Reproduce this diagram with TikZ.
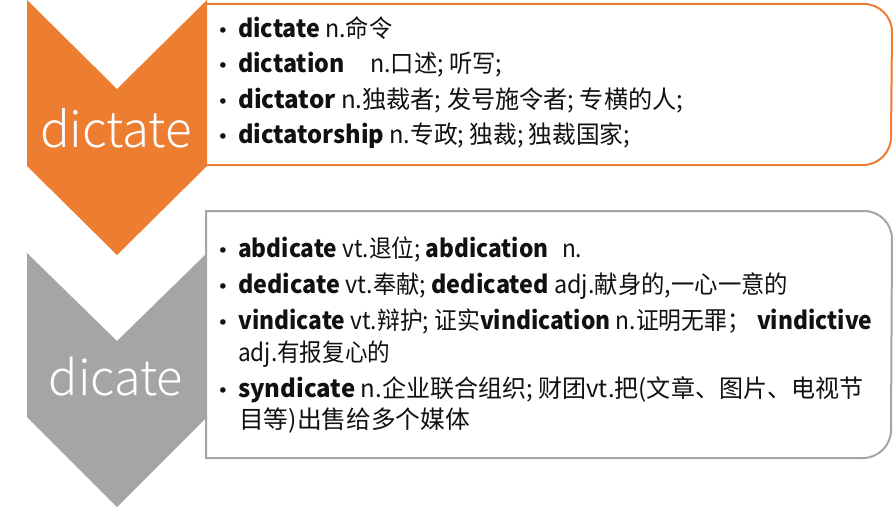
\documentclass[tikz,border=0pt]{standalone}
\usepackage{fontspec}
\setmainfont{Noto Sans CJK SC}
\newfontfamily\lightfont{Noto Sans CJK SC Light}
\newfontfamily\bulfont{DejaVu Sans}
\usepackage{graphicx}
\definecolor{chevorange}{HTML}{ED7D31}
\definecolor{chevgray}{HTML}{A5A5A5}
\definecolor{txt}{HTML}{111111}
\newsavebox\fitbox
\newcommand{\fitline}[2]{\sbox\fitbox{#2}\pgfmathsetmacro\fitfac{#1/\wd\fitbox}\scalebox{\fitfac}[1]{\usebox\fitbox}}
\tikzset{
  listline/.style={anchor=base west, inner sep=0pt, text=txt, font=\fontsize{24.5pt}{28pt}\selectfont},
  bul/.style={anchor=base, inner sep=0pt, text=txt, font=\bulfont\fontsize{19pt}{24pt}\selectfont},
  chevlabel/.style={anchor=base, inner sep=0pt, text=white, font=\lightfont\fontsize{52pt}{60pt}\selectfont},
  boxline/.style={line width=2pt, fill=white},
}
\begin{document}
\begin{tikzpicture}[x=1pt,y=-1pt]
\useasboundingbox (0,0) rectangle (894,508);
% chevrons
\fill[chevorange] (27,0) -- (117,89) -- (207,0) -- (207,166) -- (117,255) -- (27,166) -- cycle;
\fill[chevgray] (27,253) -- (117,341) -- (207,253) -- (207,417) -- (117,507) -- (27,417) -- cycle;
% boxes
\draw[boxline, draw=chevorange] (206,4) -- (864,4) arc[start angle=-90, end angle=0, radius=28] -- (891,137) arc[start angle=0, end angle=90, radius=28] -- (206,165) -- cycle;
\draw[boxline, draw=chevgray] (206,211) -- (864,211) arc[start angle=-90, end angle=0, radius=28] -- (891,430) arc[start angle=0, end angle=90, radius=28] -- (206,458) -- cycle;
% chevron labels
\node[chevlabel] (lab1) at (116,147) {\resizebox{152pt}{!}{dictate}};
\node[chevlabel] (lab2) at (116,395) {\resizebox{134pt}{!}{dicate}};
% orange list
\node[bul] (ob1) at (223,38) {•};
\node[bul] (ob2) at (223,73) {•};
\node[bul] (ob3) at (223,109) {•};
\node[bul] (ob4) at (223,144) {•};
\node[listline] (o1) at (238,38) {\fitline{154}{\textbf{dictate} n.命令}};
\node[listline] (o2) at (238,73) {\fitline{264}{\textbf{dictation}\hspace{1.1em}n.口述; 听写;}};
\node[listline] (o3) at (238,109) {\fitline{445}{\textbf{dictator} n.独裁者; 发号施令者; 专横的人;}};
\node[listline] (o4) at (238,144) {\fitline{392}{\textbf{dictatorship} n.专政; 独裁; 独裁国家;}};
% gray list
\node[bul] (gb1) at (223,257) {•};
\node[bul] (gb2) at (223,293) {•};
\node[bul] (gb3) at (223,329) {•};
\node[bul] (gb4) at (223,397) {•};
\node[listline] (g1) at (238,257) {\fitline{344}{\textbf{abdicate} vt.退位; \textbf{abdication}\hspace{0.6em}n.}};
\node[listline] (g2) at (238,293) {\fitline{550}{\textbf{dedicate} vt.奉献; \textbf{dedicated} adj.献身的,一心一意的}};
\node[listline] (g3) at (238,329) {\fitline{634}{\textbf{vindicate} vt.辩护; 证实\textbf{vindication} n.证明无罪；\hspace{0.3em}\textbf{vindictive}}};
\node[listline] (g3b) at (238,361) {\fitline{152}{adj.有报复心的}};
\node[listline] (g4) at (238,397) {\fitline{625}{\textbf{syndicate} n.企业联合组织; 财团vt.把(文章、图片、电视节}};
\node[listline] (g4b) at (239,428) {\fitline{231}{目等)出售给多个媒体}};
\end{tikzpicture}
\end{document}
